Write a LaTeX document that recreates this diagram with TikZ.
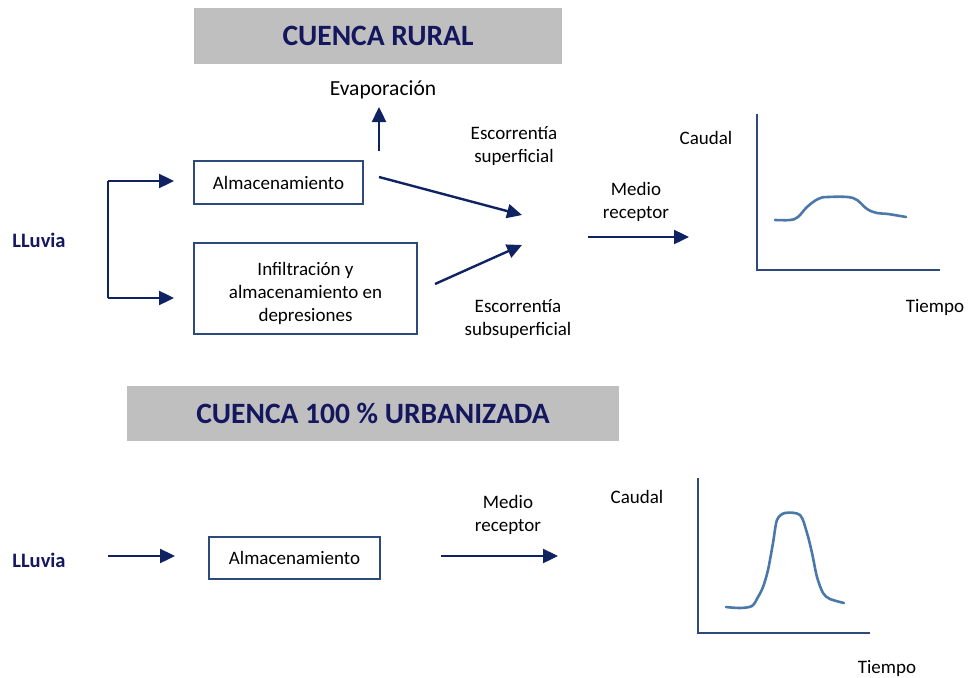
\documentclass[tikz,border=0pt]{standalone}
\usepackage{fontspec}
\setmainfont{Carlito}
\usetikzlibrary{arrows.meta}
\definecolor{navy}{HTML}{0F2363}
\definecolor{txtnavy}{HTML}{14175E}
\definecolor{boxc}{HTML}{2E4A7D}
\definecolor{grayc}{HTML}{BFBFBF}
\definecolor{curve}{HTML}{4A78A8}
\tikzset{
  flow/.style={draw=navy, line width=2.4pt, -{Triangle[length=15pt,width=14pt]}},
  plainline/.style={draw=navy, line width=2.4pt},
  procbox/.style={draw=boxc, line width=1.3pt, inner sep=0pt, align=center, font=\fontsize{19}{23}\selectfont},
  titlebox/.style={fill=grayc, inner sep=0pt, font=\fontsize{29.5}{32}\selectfont\bfseries, text=txtnavy},
  lbl/.style={align=center, yshift=-2pt, font=\fontsize{19}{23}\selectfont},
  rain/.style={font=\fontsize{20.5}{22}\selectfont\bfseries, text=txtnavy},
  axis/.style={draw=boxc, line width=1.5pt},
  hydro/.style={draw=curve, line width=2.6pt, line cap=round, line join=round}
}
\begin{document}
\begin{tikzpicture}[x=1pt,y=-1pt]
\useasboundingbox (0,0) rectangle (971,677);
% ---------- Rural ----------
\node[titlebox, minimum width=368pt, minimum height=56pt] (t1) at (378,36) {CUENCA RURAL};
\node[lbl, font=\fontsize{21.5}{24}\selectfont] (evap) at (383,88) {Evaporación};
\coordinate (evs) at (379,151);
\coordinate (eve) at (379,107);
\draw[flow] (evs) -- (eve);
\node[lbl] (esup) at (514,144.5) {Escorrentía\\superficial};
\node[rain] (ll1) at (39,240) {LLuvia};
\coordinate (b1t) at (108,181);
\coordinate (b1b) at (108,298);
\node[procbox, minimum width=169pt, minimum height=43pt] (alm1) at (278.5,182.5) {Almacenamiento};
\node[procbox, minimum width=223pt, minimum height=91pt, text depth=4pt] (inf) at (305.5,288.5) {};
\node[lbl, yshift=-3pt] (inft) at (inf.center) {Infiltración y\\almacenamiento en\\depresiones};
\draw[plainline] (b1b) -- (b1t);
\coordinate (a1e) at (174,181);
\coordinate (a2e) at (174,298);
\draw[flow] (b1t) -- (a1e);
\draw[flow] (b1b) -- (a2e);
\coordinate (s1) at (379,177);
\coordinate (j1) at (522,215);
\coordinate (s2) at (435,284);
\coordinate (j2) at (522,245);
\draw[flow] (s1) -- (j1);
\draw[flow] (s2) -- (j2);
\node[lbl] (mr1) at (636,200) {Medio\\receptor};
\coordinate (m1s) at (588,237);
\coordinate (m1e) at (689,237);
\draw[flow] (m1s) -- (m1e);
\node[lbl] (esub) at (518,317.5) {Escorrentía\\subsuperficial};
\node[lbl] (cau1) at (706,136) {Caudal};
\node[lbl] (tie1) at (935,305) {Tiempo};
\coordinate (o1) at (757,270);
\draw[axis] (757,114) -- (o1) -- (940,270);
\draw[hydro] plot[smooth, tension=0.6] coordinates {(775,220) (790,220) (798,217) (807,207) (818,199) (828,197) (853,198) (867,209) (877,213) (888,214) (906,217)};
% ---------- Urban ----------
\node[titlebox, minimum width=492pt, minimum height=55pt] (t2) at (373,413.5) {CUENCA 100 \% URBANIZADA};
\node[rain] (ll2) at (39,560) {LLuvia};
\coordinate (u1s) at (108,556);
\coordinate (u1e) at (175,556);
\draw[flow] (u1s) -- (u1e);
\node[procbox, minimum width=171pt, minimum height=42pt] (alm2) at (294.5,558) {Almacenamiento};
\node[lbl] (mr2) at (508,512.5) {Medio\\receptor};
\coordinate (u2s) at (441,556);
\coordinate (u2e) at (558,556);
\draw[flow] (u2s) -- (u2e);
\node[lbl] (cau2) at (637,495) {Caudal};
\node[lbl] (tie2) at (887,666) {Tiempo};
\coordinate (o2) at (698,633);
\draw[axis] (698,478) -- (o2) -- (870,633);
\draw[hydro] plot[smooth, tension=0.5] coordinates {(726,607) (740,608) (752,606) (758,597) (763,587) (768,570) (773,543) (777,520) (785,513) (800,515) (807,533) (812,553) (817,577) (823,593) (830,599) (844,603)};
\end{tikzpicture}
\end{document}
